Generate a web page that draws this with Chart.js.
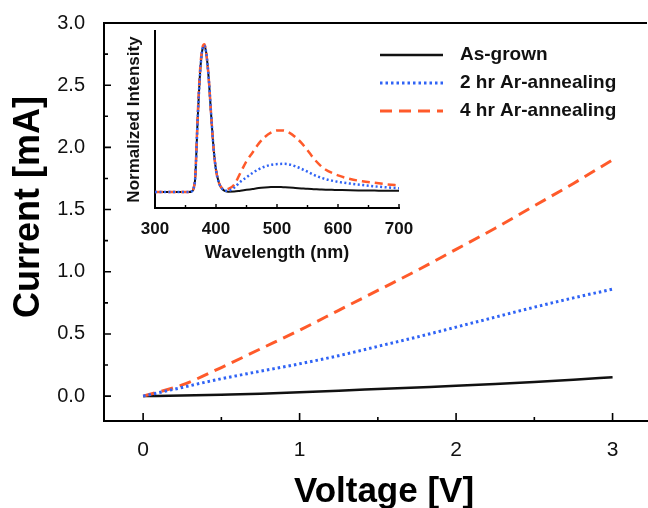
<!DOCTYPE html>
<html lang="en">
<head>
<meta charset="utf-8">
<title>I-V curves with PL inset</title>
<script src="https://cdn.jsdelivr.net/npm/chart.js@4.4.1/dist/chart.umd.min.js"></script>
<style>
  body { margin: 0; background: #fff; }
  #wrap { position: relative; width: 648px; height: 508px; }
  #main { position: absolute; left: 0; top: 0; }
  #inset { position: absolute; left: 110px; top: 18px; }
</style>
</head>
<body>
<div id="wrap">
  <canvas id="main" width="648" height="508"></canvas>
  <canvas id="inset" width="320" height="250"></canvas>
</div>
<script>
// ---- main panel: current vs voltage ----
var voltage = [0, 0.25, 0.5, 0.75, 1, 1.25, 1.5, 1.75, 2, 2.25, 2.5, 2.75, 3];
var asGrown = [0, 0.005, 0.012, 0.02, 0.032, 0.044, 0.057, 0.07, 0.083, 0.097, 0.113, 0.131, 0.152];
var ar2hr   = [0, 0.07, 0.14, 0.2, 0.26, 0.325, 0.4, 0.475, 0.555, 0.635, 0.715, 0.79, 0.86];
var ar4hr   = [0, 0.09, 0.23, 0.38, 0.53, 0.69, 0.85, 1.01, 1.18, 1.35, 1.53, 1.71, 1.9];
var xTicks = [0, 1, 2, 3];
var xMinorTicks = [0.5, 1.5, 2.5];
var yTicks = [0, 0.5, 1, 1.5, 2, 2.5, 3];
var yMinorTicks = [0.25, 0.75, 1.25, 1.75, 2.25, 2.75];

// ---- inset: normalized PL spectra ----
var wavelength = [300, 320, 340, 355, 360, 363, 366, 370, 374, 378, 381, 384, 388, 392, 396, 400, 405, 410, 415, 420,
                  430, 440, 450, 460, 470, 480, 490, 500, 510, 520, 530, 540, 550, 560, 570, 580, 590, 600, 620, 640, 660, 680, 700];
var plAsGrown = [0, 0, 0, 0, 0.003, 0.02, 0.1, 0.5, 0.82, 0.98, 1.0, 0.95, 0.78, 0.53, 0.3, 0.15, 0.06, 0.02, 0.006, 0.001,
                 0.002, 0.008, 0.014, 0.02, 0.026, 0.03, 0.033, 0.034, 0.032, 0.03, 0.027, 0.024, 0.021, 0.019, 0.017, 0.015, 0.014, 0.013, 0.011, 0.01, 0.009, 0.008, 0.008];
var pl2hr = [0, 0, 0, 0, 0.003, 0.02, 0.1, 0.5, 0.82, 0.98, 1.0, 0.95, 0.78, 0.53, 0.3, 0.15, 0.06, 0.022, 0.01, 0.008,
             0.03, 0.07, 0.1, 0.13, 0.155, 0.173, 0.185, 0.19, 0.192, 0.188, 0.175, 0.158, 0.138, 0.117, 0.1, 0.087, 0.077, 0.069, 0.057, 0.047, 0.038, 0.031, 0.025];
var pl4hr = [0, 0, 0, 0, 0.003, 0.02, 0.11, 0.52, 0.84, 0.99, 1.01, 0.95, 0.78, 0.53, 0.3, 0.15, 0.06, 0.025, 0.015, 0.02,
             0.05, 0.13, 0.21, 0.27, 0.33, 0.375, 0.405, 0.42, 0.42, 0.405, 0.375, 0.335, 0.285, 0.23, 0.185, 0.152, 0.13, 0.113, 0.088, 0.073, 0.062, 0.052, 0.044];
var insetTicks = [300, 400, 500, 600, 700];
var insetMinorTicks = [350, 450, 550, 650];

var seriesNames = ['As-grown', '2 hr Ar-annealing', '4 hr Ar-annealing'];

var FONT = '"Liberation Sans", Arial, Helvetica, sans-serif';
var BLACK = '#111111';
var BLUE = '#2f63f5';
var ORANGE = '#ff5a2a';

function points(xs, ys) {
    return xs.map(function(x, i) { return { x: x, y: ys[i] }; });
}

function line(label, data, color, width, dash, order) {
    return {
        label: label,
        data: data,
        borderColor: color,
        backgroundColor: color,
        borderWidth: width,
        borderDash: dash,
        order: order,
        pointRadius: 0,
        fill: false,
        cubicInterpolationMode: 'monotone'
    };
}

// inward ticks, top edge, axis titles and legend of the main panel
var mainDecor = {
    id: 'mainDecor',
    afterDraw: function(chart) {
        var ctx = chart.ctx, a = chart.chartArea;
        var xs = chart.scales.x, ys = chart.scales.y;
        ctx.save();
        ctx.strokeStyle = '#000';
        ctx.lineWidth = 2;
        ctx.beginPath();
        ctx.moveTo(a.left - 1, a.top);
        ctx.lineTo(a.right, a.top);
        ctx.stroke();

        ctx.lineWidth = 1.6;
        ctx.beginPath();
        xTicks.forEach(function(v) { var p = xs.getPixelForValue(v); ctx.moveTo(p, a.bottom); ctx.lineTo(p, a.bottom - 8); });
        xMinorTicks.forEach(function(v) { var p = xs.getPixelForValue(v); ctx.moveTo(p, a.bottom); ctx.lineTo(p, a.bottom - 4); });
        yTicks.forEach(function(v) { var p = ys.getPixelForValue(v); ctx.moveTo(a.left, p); ctx.lineTo(a.left + 7, p); });
        yMinorTicks.forEach(function(v) { var p = ys.getPixelForValue(v); ctx.moveTo(a.left, p); ctx.lineTo(a.left + 4, p); });
        ctx.stroke();

        // axis titles
        ctx.fillStyle = '#000';
        ctx.font = 'bold 35px ' + FONT;
        ctx.textAlign = 'center';
        ctx.textBaseline = 'alphabetic';
        ctx.fillText('Voltage [V]', 384, 502);
        ctx.save();
        ctx.translate(39, 207);
        ctx.rotate(-Math.PI / 2);
        ctx.font = 'bold 36px ' + FONT;
        ctx.fillText('Current [mA]', 0, 0);
        ctx.restore();

        // legend
        ctx.font = 'bold 19px ' + FONT;
        ctx.textAlign = 'left';
        ctx.textBaseline = 'middle';
        chart.data.datasets.forEach(function(ds, i) {
            var y = 55 + i * 28;
            ctx.strokeStyle = ds.borderColor;
            ctx.lineWidth = ds.borderWidth;
            ctx.setLineDash(ds.borderDash || []);
            ctx.beginPath();
            ctx.moveTo(380, y);
            ctx.lineTo(443, y);
            ctx.stroke();
            ctx.setLineDash([]);
            ctx.fillStyle = '#111';
            ctx.fillText(ds.label, 460, y);
        });
        ctx.restore();
    }
};

var insetDecor = {
    id: 'insetDecor',
    afterDraw: function(chart) {
        var ctx = chart.ctx, a = chart.chartArea, xs = chart.scales.x;
        ctx.save();
        ctx.strokeStyle = '#000';
        ctx.lineWidth = 1.4;
        ctx.beginPath();
        insetTicks.forEach(function(v) { var p = xs.getPixelForValue(v); ctx.moveTo(p, a.bottom); ctx.lineTo(p, a.bottom - 4); });
        insetMinorTicks.forEach(function(v) { var p = xs.getPixelForValue(v); ctx.moveTo(p, a.bottom); ctx.lineTo(p, a.bottom - 3); });
        ctx.stroke();
        ctx.restore();
    }
};

new Chart(document.getElementById('main').getContext('2d'), {
    type: 'line',
    data: {
        datasets: [
            line(seriesNames[0], points(voltage, asGrown), BLACK, 2.5, [], 3),
            line(seriesNames[1], points(voltage, ar2hr), BLUE, 3, [2.5, 3], 1),
            line(seriesNames[2], points(voltage, ar4hr), ORANGE, 3, [12, 7], 2)
        ]
    },
    options: {
        responsive: false,
        devicePixelRatio: 1,
        animation: false,
        events: [],
        layout: { padding: { top: 17, right: 1, left: 0, bottom: 0 } },
        plugins: { legend: { display: false }, tooltip: { enabled: false } },
        scales: {
            x: {
                type: 'linear',
                min: -0.25,
                max: 3.22,
                afterBuildTicks: function(s) { s.ticks = xTicks.map(function(v) { return { value: v }; }); },
                afterFit: function(s) { s.height = 87; },
                grid: { display: false },
                border: { display: true, width: 2, color: '#000' },
                ticks: { padding: 9, color: '#111', font: { family: FONT, size: 21 },
                         callback: function(v) { return String(v); } }
            },
            y: {
                type: 'linear',
                min: -0.2,
                max: 3.0,
                afterBuildTicks: function(s) { s.ticks = yTicks.map(function(v) { return { value: v }; }); },
                afterFit: function(s) { s.width = 104; },
                grid: { display: false },
                border: { display: true, width: 2, color: '#000' },
                ticks: { padding: 11, color: '#111', font: { family: FONT, size: 20 },
                         callback: function(v) { return v.toFixed(1); } }
            }
        }
    },
    plugins: [mainDecor]
});

new Chart(document.getElementById('inset').getContext('2d'), {
    type: 'line',
    data: {
        datasets: [
            line(seriesNames[0], points(wavelength, plAsGrown), BLACK, 2, [], 3),
            line(seriesNames[1], points(wavelength, pl2hr), BLUE, 2.5, [2, 2.5], 1),
            line(seriesNames[2], points(wavelength, pl4hr), ORANGE, 2.5, [8, 5], 2)
        ]
    },
    options: {
        responsive: false,
        devicePixelRatio: 1,
        animation: false,
        events: [],
        layout: { padding: { top: 13, right: 31, left: 0, bottom: 0 } },
        plugins: { legend: { display: false }, tooltip: { enabled: false } },
        scales: {
            x: {
                type: 'linear',
                min: 300,
                max: 700,
                afterBuildTicks: function(s) { s.ticks = insetTicks.map(function(v) { return { value: v }; }); },
                afterFit: function(s) { s.height = 60; },
                grid: { display: false },
                border: { display: true, width: 2, color: '#000' },
                ticks: { padding: 3, color: '#111', font: { family: FONT, size: 17, weight: 'bold' } },
                title: { display: true, text: 'Wavelength (nm)', color: '#111',
                         font: { family: FONT, size: 18, weight: 'bold' }, padding: { top: 0, bottom: 4 } }
            },
            y: {
                type: 'linear',
                min: -0.11,
                max: 1.1,
                afterFit: function(s) { s.width = 45; },
                grid: { display: false },
                border: { display: true, width: 2, color: '#000' },
                ticks: { display: false },
                title: { display: true, text: 'Normalized Intensity', color: '#111',
                         font: { family: FONT, size: 17, weight: 'bold' }, padding: { top: 14, bottom: 0 } }
            }
        }
    },
    plugins: [insetDecor]
});
</script>
</body>
</html>
